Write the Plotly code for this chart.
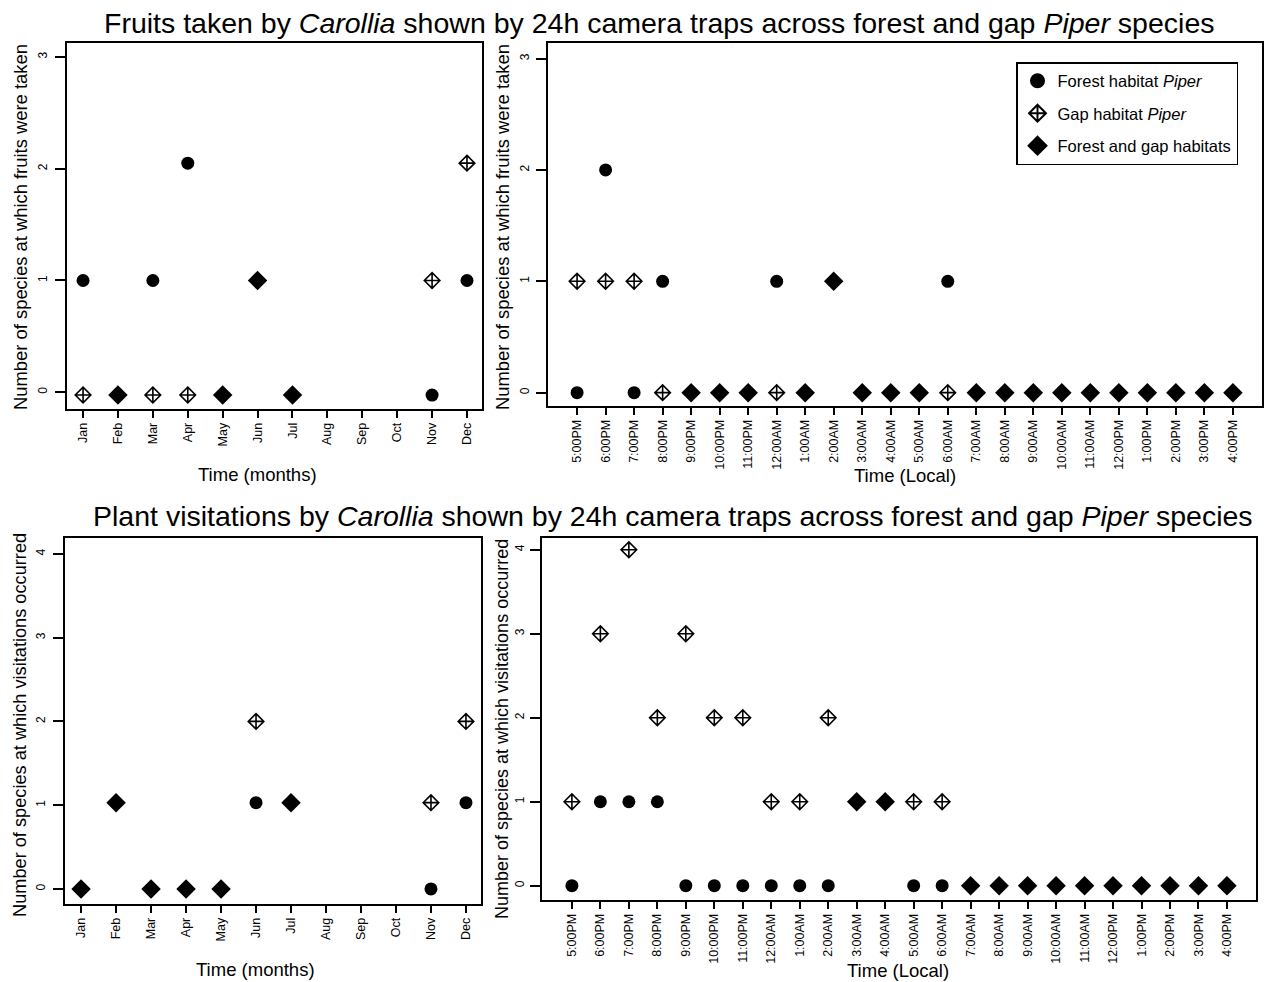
import plotly.graph_objects as go

W, H = 1267, 982

# ---------------- data ----------------
months = ["Jan", "Feb", "Mar", "Apr", "May", "Jun", "Jul", "Aug", "Sep", "Oct", "Nov", "Dec"]
hours = ["5:00PM", "6:00PM", "7:00PM", "8:00PM", "9:00PM", "10:00PM", "11:00PM", "12:00AM",
         "1:00AM", "2:00AM", "3:00AM", "4:00AM", "5:00AM", "6:00AM", "7:00AM", "8:00AM",
         "9:00AM", "10:00AM", "11:00AM", "12:00PM", "1:00PM", "2:00PM", "3:00PM", "4:00PM"]

# Fruits taken, by month
fruit_month_forest = [1, None, 1, 2.05, None, None, None, None, None, None, -0.025, 1]
fruit_month_gap = [-0.025, None, -0.025, -0.025, None, None, None, None, None, None, 1, 2.05]
fruit_month_both = [None, -0.025, None, None, -0.025, 1, -0.025, None, None, None, None, None]

# Fruits taken, by hour
fruit_hour_forest = [0, 2, 0, 1, None, None, None, 1, None, None, None, None, None, 1,
                     None, None, None, None, None, None, None, None, None, None]
fruit_hour_gap = [1, 1, 1, 0, None, None, None, 0, None, None, None, None, None, 0,
                  None, None, None, None, None, None, None, None, None, None]
fruit_hour_both = [None, None, None, None, 0, 0, 0, None, 0, 1, 0, 0, 0, None,
                   0, 0, 0, 0, 0, 0, 0, 0, 0, 0]

# Plant visitations, by month
visit_month_forest = [None, None, None, None, None, 1.03, None, None, None, None, 0, 1.03]
visit_month_gap = [None, None, None, None, None, 2, None, None, None, None, 1.03, 2]
visit_month_both = [0, 1.03, 0, 0, 0, None, 1.03, None, None, None, None, None]

# Plant visitations, by hour
visit_hour_forest = [0, 1, 1, 1, 0, 0, 0, 0, 0, 0, None, None, 0, 0,
                     None, None, None, None, None, None, None, None, None, None]
visit_hour_gap = [1, 3, 4, 2, 3, 2, 2, 1, 1, 2, None, None, 1, 1,
                  None, None, None, None, None, None, None, None, None, None]
visit_hour_both = [None, None, None, None, None, None, None, None, None, None, 1, 1, None, None,
                   0, 0, 0, 0, 0, 0, 0, 0, 0, 0]

series_names = ["Forest habitat <i>Piper</i>", "Gap habitat <i>Piper</i>", "Forest and gap habitats"]

FONT = "Liberation Sans, Arial, Helvetica, sans-serif"

# ---------------- styles ----------------
styles = [
    dict(symbol="circle", size=13, color="black", line=dict(width=0, color="black")),
    dict(symbol="diamond-cross-open", size=12, color="black", line=dict(width=1.6, color="black")),
    dict(symbol="diamond", size=15, color="black", line=dict(width=0, color="black")),
]
legend_styles = [
    dict(symbol="circle", size=15, color="black", line=dict(width=0, color="black")),
    dict(symbol="diamond-cross-open", size=13, color="black", line=dict(width=2, color="black")),
    dict(symbol="diamond", size=16, color="black", line=dict(width=0, color="black")),
]

def px2x(px):
    return px / W

def px2y(py):
    return 1 - py / H

panels = [
    ("x", "y", months, [fruit_month_forest, fruit_month_gap, fruit_month_both],
     (67, 482), (43, 409), [0.54, 12.43], [-0.15, 3.125], [0, 1, 2, 3], 3),
    ("x2", "y2", hours, [fruit_hour_forest, fruit_hour_gap, fruit_hour_both],
     (548, 1262), (43, 406), [-0.02, 25.02], [-0.12, 3.14], [0, 1, 2, 3], 2),
    ("x3", "y3", months, [visit_month_forest, visit_month_gap, visit_month_both],
     (65, 481), (538, 904), [0.54, 12.43], [-0.18, 4.19], [0, 1, 2, 3, 4], 3),
    ("x4", "y4", hours, [visit_hour_forest, visit_hour_gap, visit_hour_both],
     (542, 1256), (538, 900), [-0.05, 25.02], [-0.17, 4.14], [0, 1, 2, 3, 4], 1),
]

fig = go.Figure()
layout = {}

for pi, (xa, ya, labels, series, xd, yd, xr, yr, yt, standoff) in enumerate(panels):
    xpos = list(range(1, len(labels) + 1))
    for si, vals in enumerate(series):
        xs = [xpos[i] for i, v in enumerate(vals) if v is not None]
        ys = [v for v in vals if v is not None]
        fig.add_trace(go.Scatter(
            x=xs, y=ys, mode="markers", xaxis=xa, yaxis=ya,
            name=series_names[si], showlegend=False,
            marker=styles[si], cliponaxis=False, hoverinfo="x+y+name",
        ))
    xkey = "xaxis" if xa == "x" else "xaxis" + xa[1:]
    ykey = "yaxis" if ya == "y" else "yaxis" + ya[1:]
    layout[xkey] = dict(
        domain=[px2x(xd[0]), px2x(xd[1])], range=xr, anchor=ya,
        tickmode="array", tickvals=xpos, ticktext=labels, tickangle=-90,
        ticks="outside", ticklen=7, tickwidth=1.5, tickcolor="black",
        showline=True, linecolor="black", linewidth=1.5, mirror=True,
        showgrid=False, zeroline=False,
        tickfont=dict(family=FONT, size=12.5, color="black"),
    )
    layout[ykey] = dict(
        domain=[px2y(yd[1]), px2y(yd[0])], range=yr, anchor=xa,
        tickmode="array", tickvals=yt, ticktext=[str(v) for v in yt], tickangle=-90,
        ticks="outside", ticklen=10, tickwidth=1.5, tickcolor="black",
        showline=True, linecolor="black", linewidth=1.5, mirror=True,
        showgrid=False, zeroline=False, ticklabelstandoff=standoff,
        tickfont=dict(family=FONT, size=12, color="black"),
    )

# legend entries (placeholder traces carrying only the legend symbol)
for si in range(3):
    fig.add_trace(go.Scatter(
        x=[None], y=[None], mode="markers", xaxis="x2", yaxis="y2",
        name=series_names[si], legendgroup="g%d" % si, showlegend=True,
        marker=legend_styles[si],
    ))

annotations = []

def ann(text, x, y, size, angle=0):
    annotations.append(dict(
        text=text, x=px2x(x), y=px2y(y), xref="paper", yref="paper",
        showarrow=False, textangle=angle, xanchor="center", yanchor="middle",
        font=dict(family=FONT, size=size, color="black"),
    ))

ann("Fruits taken by <i>Carollia</i> shown by 24h camera traps across forest and gap <i>Piper</i> species",
    660, 23, 28.5)
ann("Plant visitations by <i>Carollia</i> shown by 24h camera traps across forest and gap <i>Piper</i> species",
    673, 516, 28.5)
ann("Number of species at which fruits were taken", 21, 227, 18.4, -90)
ann("Number of species at which fruits were taken", 503, 227, 18.4, -90)
ann("Number of species at which visitations occurred", 20, 725, 18.2, -90)
ann("Number of species at which visitations occurred", 502, 729, 18, -90)
ann("Time (months)", 257, 474, 18.5)
ann("Time (Local)", 905, 476, 18.5)
ann("Time (months)", 255, 969, 18.5)
ann("Time (Local)", 898, 970, 18.5)

fig.update_layout(
    width=W, height=H,
    margin=dict(l=0, r=0, t=0, b=0),
    paper_bgcolor="white", plot_bgcolor="white",
    font=dict(family=FONT, color="black"),
    annotations=annotations,
    legend=dict(
        x=px2x(1016), y=px2y(62), xanchor="left", yanchor="top",
        bordercolor="black", borderwidth=1.5, bgcolor="white",
        font=dict(family=FONT, size=16.5, color="black"),
        tracegroupgap=8, itemwidth=30,
    ),
    showlegend=True,
    **layout,
)

fig.write_html("out.html", config={"displayModeBar": False},
               post_script="document.body.style.margin='0';document.body.style.overflow='hidden';")
